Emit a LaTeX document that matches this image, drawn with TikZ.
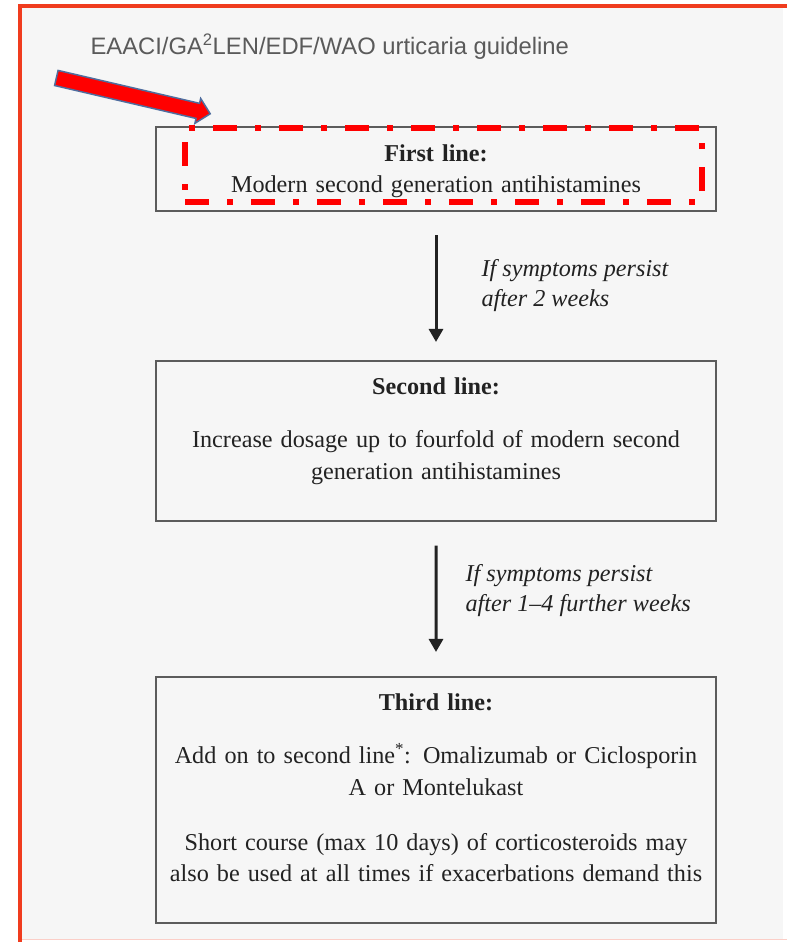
\documentclass[tikz,border=0pt]{standalone}
\usepackage{fontspec}
\setmainfont{Liberation Serif}
\newfontfamily\titlefont{Liberation Sans}
\usetikzlibrary{arrows.meta,shapes.arrows}
\definecolor{framered}{HTML}{F03C1E}
\definecolor{panelgray}{HTML}{F6F6F6}
\definecolor{boxgray}{HTML}{5C5C5C}
\definecolor{inkgray}{HTML}{222222}
\definecolor{titlegray}{HTML}{5A5A5A}
\definecolor{arrowblue}{HTML}{4F6D9E}
\begin{document}
\begin{tikzpicture}[x=1pt,y=-1pt,
  stage/.style={draw=boxgray,line width=1.6pt,text width=540pt,align=center,inner xsep=10pt,inner ysep=0pt,text height=34pt,font=\fontsize{24.2}{31.5}\selectfont,text=inkgray},
  cond/.style={font=\fontsize{24.2}{30}\selectfont\itshape,align=left,text=inkgray,inner sep=0pt},
  hilite/.style={draw=red,line width=5.5pt,dash pattern=on 24pt off 18pt on 6pt off 18pt,inner sep=0pt},
  edge from parent/.style={draw=inkgray,line width=3pt,-{Triangle[width=14pt,length=13pt]},shorten <=23.5pt},
  level 1/.style={level distance=272pt,edge from parent/.append style={shorten >=18pt}},
  level 2/.style={level distance=359pt,edge from parent/.append style={shorten >=24pt}}]
\useasboundingbox (0,0) rectangle (787,942);
\fill[white] (0,0) rectangle (787,942);
\fill[panelgray] (20,6) rectangle (783,939);
\draw[framered!25,line width=1.2pt] (20,939.5) -- (787,939.5);
\draw[framered,line width=3.5pt] (20,942) -- (20,6) -- (787,6);
\node[anchor=base west,font=\titlefont\fontsize{23.8}{28}\selectfont,text=titlegray] (title) at (87,55) {EAACI/GA\textsuperscript{2}LEN/EDF/WAO urticaria guideline};
\node[stage,text depth=50pt] (first) at (436,169) {\textbf{First line:}\\Modern second generation antihistamines}
child {node[stage,text depth=126.5pt] (second) {\textbf{Second line:}\\[21.5pt]Increase dosage up to fourfold of modern second\\generation antihistamines}
    child {node[stage,text depth=212.5pt] (third) {\textbf{Third line:}\\[21.5pt]Add on to second line\textsuperscript{*}: Omalizumab or Ciclosporin\\A or Montelukast\\[23.5pt]Short course (max 10 days) of corticosteroids may\\also be used at all times if exacerbations demand this}
          edge from parent node[cond,right=28pt,yshift=8pt] {If symptoms persist\\after 1--4 further weeks}}
    edge from parent node[cond,right=44pt] {If symptoms persist\\after 2 weeks}};
\node[hilite,minimum width=517pt,minimum height=74pt] (mark) at (443.5,165) {};
\node[single arrow,fill=red,draw=arrowblue,line width=1.5pt,minimum height=158pt,single arrow head extend=5pt,inner ysep=7pt,inner xsep=0pt,rotate=-13.1] (pointer) at (129.5,95) {};
\end{tikzpicture}
\end{document}
